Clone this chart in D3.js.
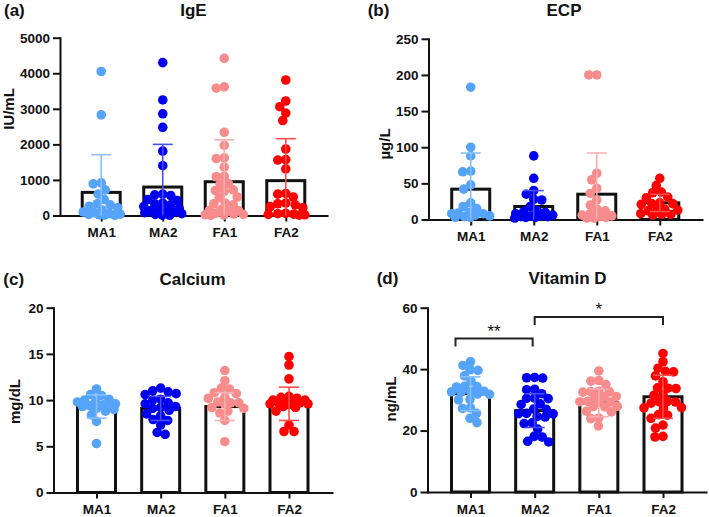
<!DOCTYPE html>
<html><head><meta charset="utf-8">
<script src="https://cdn.jsdelivr.net/npm/d3@7"></script>
<style>
body{margin:0;background:#fff}
svg{display:block}
text{font-family:"Liberation Sans",Arial,Helvetica,sans-serif;font-weight:bold;fill:#111}
</style>
</head><body>
<svg id="chart" width="709" height="517"></svg>
<script>
// ---------- shared ----------
const groups = ["MA1", "MA2", "FA1", "FA2"];
const groupColors = ["#56A4F9", "#0000F0", "#F88C8C", "#FF0000"];

// ---------- (a) IgE, IU/mL ----------
const igeMA1 = [4050, 2830, 920, 890, 720, 600, 450, 330, 300, 260, 220, 150, 100, 80, 60, 40, 30, 20, 10, 5];
const igeMA2 = [4300, 3250, 2860, 2480, 1810, 1400, 600, 580, 560, 450, 420, 350, 330, 300, 250, 200, 150, 140, 120, 100, 80, 50, 30, 10, 5];
const igeFA1 = [4420, 3620, 3580, 2340, 1970, 1620, 1600, 1360, 1100, 1090, 900, 880, 720, 700, 680, 520, 500, 350, 330, 300, 160, 140, 130, 120, 60, 40, 30, 20, 10, 5];
const igeFA2 = [3810, 3220, 3060, 2880, 2670, 1870, 1570, 1560, 1310, 620, 600, 520, 350, 330, 300, 250, 220, 60, 50, 40, 30, 20, 10];
const igeMeans = [650, 800, 950, 980];
const igeSD = [1060, 1200, 1180, 1180];
const igeTicks = [0, 1000, 2000, 3000, 4000, 5000];

// ---------- (b) ECP, µg/L ----------
const ecpMA1 = [183, 100, 88, 67, 66, 48, 42, 23, 18, 15, 10, 9, 8, 8, 6, 5, 4, 3, 3];
const ecpMA2 = [88, 57, 40, 35, 28, 27, 18, 12, 11, 10, 8, 6, 5, 5, 4, 4, 3, 3, 2];
const ecpFA1 = [200, 200, 64, 55, 43, 36, 27, 20, 14, 12, 8, 6, 5, 4, 3, 2, 2];
const ecpFA2 = [57, 47, 38, 37, 31, 30, 23, 22, 22, 21, 14, 13, 12, 12, 8, 7, 7, 6];
const ecpMeans = [42, 18, 35, 23];
const ecpSD = [50, 22, 57, 12];
const ecpTicks = [0, 50, 100, 150, 200, 250];

// ---------- (c) Calcium, mg/dL ----------
const caMA1 = [11.2, 10.6, 10.5, 10.1, 10.0, 9.9, 9.8, 9.6, 9.5, 9.4, 9.4, 9.3, 9.1, 9.0, 8.8, 8.4, 7.7, 5.3];
const caMA2 = [11.3, 11.0, 10.9, 10.7, 10.6, 10.1, 10.0, 9.7, 9.6, 9.3, 9.2, 9.1, 8.9, 8.5, 8.3, 7.9, 7.8, 7.3, 6.5, 6.3];
const caFA1 = [13.2, 12.1, 11.3, 11.2, 10.8, 10.7, 10.3, 10.2, 9.8, 9.7, 9.7, 9.6, 9.2, 9.1, 8.8, 8.6, 7.8, 5.5];
const caFA2 = [14.7, 13.8, 12.3, 10.4, 10.3, 10.2, 10.0, 10.0, 9.9, 9.8, 9.7, 9.7, 9.6, 9.6, 9.5, 9.3, 9.2, 8.8, 7.3, 6.6, 6.6];
const caMeans = [9.3, 9.1, 9.3, 9.6];
const caSD = [1.25, 1.3, 1.5, 1.8];
const caTicks = [0, 5, 10, 15, 20];

// ---------- (d) Vitamin D, ng/mL ----------
const vdMA1 = [42.4, 41.2, 39.8, 39.6, 37.8, 36.1, 34.4, 34.2, 34.3, 32.8, 32.7, 32.6, 32.5, 31.9, 31.8, 30.1, 30.0, 27.4, 27.2, 25.6, 24.0, 22.6];
const vdMA2 = [37.3, 37.2, 37.1, 33.4, 33.3, 32.0, 30.6, 30.5, 30.4, 28.7, 28.5, 27.0, 26.9, 25.6, 25.5, 25.4, 24.6, 24.4, 22.5, 22.3, 20.5, 18.1, 17.9, 16.5, 16.3];
const vdFA1 = [39.4, 36.3, 36.1, 35.0, 32.8, 32.7, 32.6, 32.5, 31.1, 31.0, 30.9, 29.5, 29.4, 29.3, 29.2, 27.9, 27.8, 27.7, 26.3, 26.1, 24.1, 23.9, 21.5];
const vdFA2 = [45.1, 42.4, 40.3, 39.3, 39.1, 37.8, 35.9, 33.9, 33.8, 33.7, 31.7, 31.5, 29.5, 29.4, 29.3, 28.9, 27.5, 27.4, 27.3, 25.2, 25.0, 24.0, 21.8, 20.8, 18.1, 17.9];
const vdMeans = [32, 26.5, 29, 31];
const vdSD = [5.5, 5.5, 4.5, 7];
const vdTicks = [0, 20, 40, 60];
const vdBrackets = [
  {from: "MA1", to: "MA2", y: 50, label: "**"},
  {from: "MA2", to: "FA2", y: 57, label: "*"}
];

// ---------- drawing ----------
const svg = d3.select("#chart");
const INK = "#111";

// bounded beeswarm: nearest free horizontal slot, never wider than maxW
function swarm(values, y, minD, maxW) {
  const pts = values.map((v, i) => ({v, i, py: y(v)})).sort((a, b) => b.v - a.v);
  const placed = [];
  const off = new Array(values.length).fill(0);
  const cands = [0];
  for (let s = 0.5; s <= maxW; s += 0.5) { cands.push(-s, s); }
  for (const p of pts) {
    let chosen = null, best = -1, bestO = 0;
    for (const o of cands) {
      let md = Infinity;
      for (const q of placed) {
        const dx = o - q.ox, dy = p.py - q.py;
        md = Math.min(md, Math.sqrt(dx * dx + dy * dy));
      }
      if (md >= minD) { chosen = o; break; }
      if (md > best) { best = md; bestO = o; }
    }
    if (chosen === null) chosen = bestO;
    placed.push({ox: chosen, py: p.py});
    off[p.i] = chosen;
  }
  return off;
}

function drawPanel(cfg) {
  const g = svg.append("g");
  const x = d3.scalePoint().domain(groups).range([cfg.x0, cfg.x1]).padding(0.67);
  const y = d3.scaleLinear().domain([0, cfg.ticks[cfg.ticks.length - 1]]).range([cfg.yb, cfg.yt]);

  // axes
  const ya = g.append("g").attr("transform", `translate(${cfg.x0},0)`)
    .call(d3.axisLeft(y).tickValues(cfg.ticks).tickFormat(d3.format("d")).tickSize(7).tickPadding(3).tickSizeOuter(0));
  const xa = g.append("g").attr("transform", `translate(0,${cfg.yb})`)
    .call(d3.axisBottom(x).tickSize(6).tickPadding(6).tickSizeOuter(0));
  [ya, xa].forEach(a => {
    a.selectAll("path.domain").attr("stroke", INK).attr("stroke-width", 2).attr("stroke-linecap", "square");
    a.selectAll(".tick line").attr("stroke", INK).attr("stroke-width", 2);
    a.selectAll(".tick text").attr("fill", INK).style("font-size", "13.5px")
      .style("font-family", '"Liberation Sans",Arial,sans-serif').style("font-weight", "bold");
  });

  // bars
  const bw = 38;
  g.append("g").selectAll("rect").data(groups).join("rect")
    .attr("x", d => x(d) - bw / 2)
    .attr("y", (d, i) => y(cfg.means[i]))
    .attr("width", bw)
    .attr("height", (d, i) => cfg.yb - y(cfg.means[i]))
    .attr("fill", "#fff").attr("stroke", INK).attr("stroke-width", 3);

  // dots
  const r = 4.8;
  cfg.series.forEach((vals, gi) => {
    const offs = swarm(vals, y, 8, 19);
    g.append("g").selectAll("circle").data(vals).join("circle")
      .attr("cx", (d, i) => x(groups[gi]) + offs[i])
      .attr("cy", d => y(d))
      .attr("r", r)
      .attr("fill", groupColors[gi]);
  });

  // error bars (mean ± SD), drawn on top in a lighter tint
  const cap = 10;
  groups.forEach((grp, i) => {
    const c = d3.interpolateRgb(groupColors[i], "#fff")(0.3);
    const m = cfg.means[i], s = cfg.sd[i];
    const lo = Math.max(0, m - s), hi = m + s;
    const cx = x(grp);
    const eg = g.append("g").attr("stroke", c).attr("stroke-width", 1.6).attr("fill", "none");
    eg.append("line").attr("x1", cx).attr("x2", cx).attr("y1", y(lo)).attr("y2", y(hi));
    eg.append("line").attr("x1", cx - cap).attr("x2", cx + cap).attr("y1", y(hi)).attr("y2", y(hi));
    if (m - s > 0) eg.append("line").attr("x1", cx - cap).attr("x2", cx + cap).attr("y1", y(lo)).attr("y2", y(lo));
  });

  // brackets
  (cfg.brackets || []).forEach((b, bi) => {
    const xa1 = x(b.from) + (bi === 0 ? -15 : 0);
    const xa2 = x(b.to) + (bi === 0 ? -2 : 0);
    const yy = y(b.y);
    g.append("path")
      .attr("d", `M${xa1},${yy + 8}V${yy}H${xa2}V${yy + 8}`)
      .attr("fill", "none").attr("stroke", "#222").attr("stroke-width", 2);
    g.append("text").attr("x", (xa1 + xa2) / 2).attr("y", yy - 1.5)
      .attr("text-anchor", "middle").style("font-size", "17px").style("font-weight", "normal")
      .text(b.label);
  });

  // texts
  g.append("text").attr("x", cfg.titleX).attr("y", cfg.titleY).attr("text-anchor", "middle")
    .style("font-size", "17px").text(cfg.title);
  g.append("text").attr("x", cfg.tagX).attr("y", cfg.titleY).style("font-size", "17px").text(cfg.tag);
  g.append("text").attr("transform", `translate(${cfg.ylX},${cfg.ylY}) rotate(-90)`)
    .attr("text-anchor", "middle").attr("dy", "0.35em").style("font-size", "15px").text(cfg.ylabel);
}

drawPanel({x0: 60, x1: 327, yb: 215.5, yt: 37.7, ticks: igeTicks,
  series: [igeMA1, igeMA2, igeFA1, igeFA2], means: igeMeans, sd: igeSD,
  title: "IgE", titleX: 193.5, titleY: 15.5, tag: "(a)", tagX: 4, ylabel: "IU/mL", ylX: 9, ylY: 109});
drawPanel({x0: 428.5, x1: 702, yb: 219.5, yt: 38.8, ticks: ecpTicks,
  series: [ecpMA1, ecpMA2, ecpFA1, ecpFA2], means: ecpMeans, sd: ecpSD,
  title: "ECP", titleX: 564, titleY: 15.5, tag: "(b)", tagX: 367.7, ylabel: "µg/L", ylX: 385, ylY: 144});
drawPanel({x0: 53.5, x1: 332, yb: 492.5, yt: 307.7, ticks: caTicks,
  series: [caMA1, caMA2, caFA1, caFA2], means: caMeans, sd: caSD,
  title: "Calcium", titleX: 192.5, titleY: 284.5, tag: "(c)", tagX: 3.3, ylabel: "mg/dL", ylX: 15, ylY: 401.5});
drawPanel({x0: 427.5, x1: 706, yb: 492, yt: 307.7, ticks: vdTicks,
  series: [vdMA1, vdMA2, vdFA1, vdFA2], means: vdMeans, sd: vdSD, brackets: vdBrackets,
  title: "Vitamin D", titleX: 567.5, titleY: 283.5, tag: "(d)", tagX: 376.7, ylabel: "ng/mL", ylX: 391, ylY: 399});
</script>
</body></html>
